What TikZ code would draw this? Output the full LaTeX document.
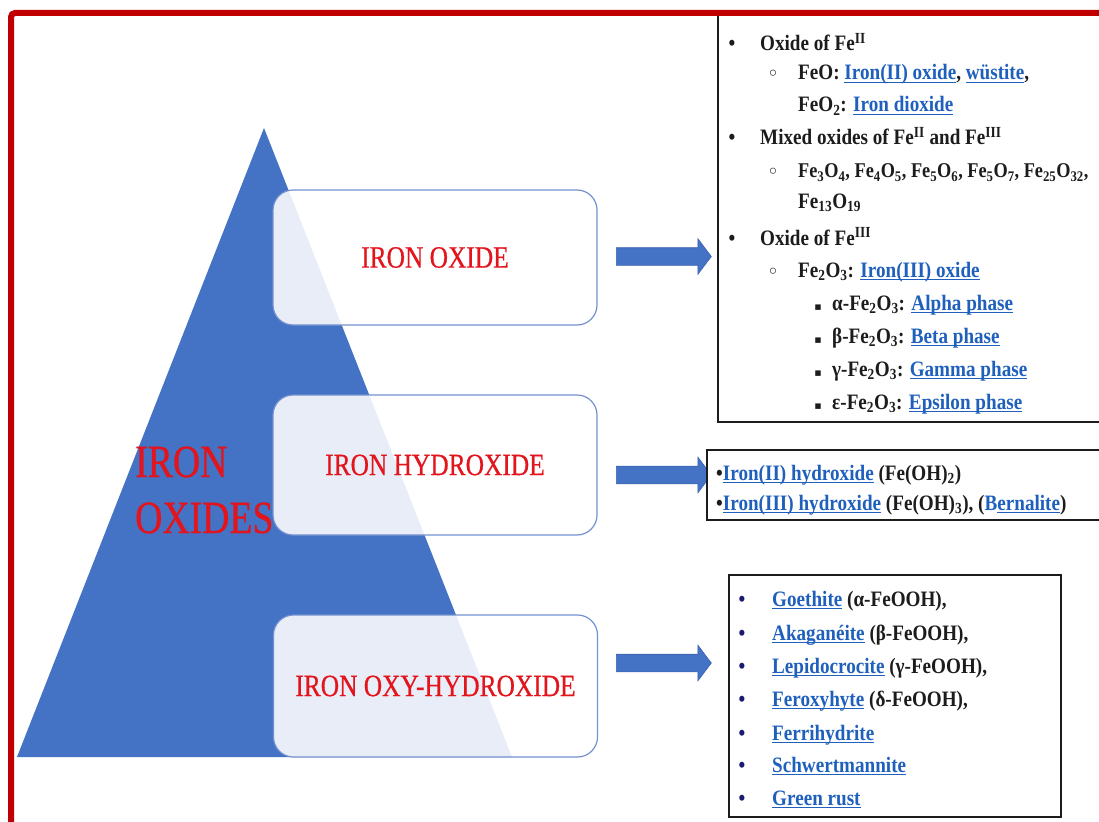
\documentclass[tikz,border=0pt]{standalone}
\usepackage{fontspec}
\usetikzlibrary{shapes.arrows}
\newfontfamily\rfont[FakeStretch=0.87]{Liberation Serif}
\newfontfamily\decofont[FakeStretch=0.82,FakeBold=0.6]{Liberation Serif}
\newfontfamily\symfont{DejaVu Sans}
\definecolor{triblue}{HTML}{4472C4}
\definecolor{edgeblue}{HTML}{7391CF}
\definecolor{arrowedge}{HTML}{3B64B0}
\definecolor{framered}{HTML}{C00000}
\definecolor{labred}{HTML}{E3141C}
\definecolor{linkc}{HTML}{1F60BD}
\definecolor{txt}{HTML}{1C1C1C}
\definecolor{navy}{HTML}{1A1A70}
% underlined hyperlink-style text
\newcommand\lnk[1]{{\color{linkc}\setbox0\hbox{#1}\rlap{\rule[-3.2pt]{\wd0}{1.3pt}}\box0}}
\newcommand\sbs[1]{\textsubscript{#1}}
\newcommand\sps[1]{\textsuperscript{#1}}
\newcommand\circbul{{\symfont\fontsize{17}{17}\selectfont ◦}}
\newcommand\sqbul{{\symfont\fontsize{11}{11}\selectfont ▪}}
\tikzset{
  catbox/.style={draw=edgeblue, line width=1.2pt, fill=white, fill opacity=0.88,
    text opacity=1, rounded corners=20pt, minimum width=324pt, inner sep=0pt,
    text=labred, font=\decofont\fontsize{31}{31}\selectfont},
  listbox/.style={draw=txt, line width=1.3pt, fill=white, inner sep=0pt},
  blockarrow/.style={single arrow, fill=triblue, draw=arrowedge, line width=0.6pt,
    minimum height=95pt, inner xsep=0pt, inner ysep=8.5pt,
    single arrow head extend=9pt, single arrow tip angle=106},
  ln/.style={anchor=base west, inner sep=0pt, text=txt,
    font=\rfont\bfseries\fontsize{22}{26}\selectfont},
  bul/.style={anchor=base, inner sep=0pt, text=txt,
    font=\rfont\bfseries\fontsize{22}{26}\selectfont},
}
\begin{document}
\begin{tikzpicture}[x=1pt,y=-1pt]
\useasboundingbox (0,0) rectangle (1099,821);
\fill[white] (0,0) rectangle (1099,821);

% pyramid
\fill[triblue] (17,757) -- (264,128) -- (512,757) -- cycle;

% category boxes
\node[catbox, minimum height=135pt] (oxide) at (435,257.5) {IRON OXIDE};
\node[catbox, minimum height=140pt] (hydroxide) at (435,465) {IRON HYDROXIDE};
\node[catbox, minimum height=142pt] (oxyhydroxide) at (435.5,686) {IRON OXY-HYDROXIDE};

\node[anchor=west, align=left, inner sep=0pt, text=labred,
  font=\decofont\fontsize{46}{56}\selectfont] (title) at (135,490) {IRON\\OXIDES};

% block arrows
\node[blockarrow] (arr1) at (660.5,256.5) {};
\node[blockarrow] (arr2) at (660.5,475) {};
\node[blockarrow] (arr3) at (660.5,663) {};

% list boxes
\node[listbox, minimum width=387pt, minimum height=408pt] (listA) at (911.5,218) {};
\node[listbox, minimum width=398pt, minimum height=70pt] (listB) at (906,485) {};
\node[listbox, minimum width=332pt, minimum height=242pt] (listC) at (895,696) {};

% oxides list
\node[bul] (a1b) at (732,51) {•};
\node[ln] (a1) at (760,51) {Oxide of Fe\sps{II}};
\node[bul] (a2b) at (773,80) {\circbul};
\node[ln] (a2) at (798,80) {FeO: \lnk{Iron(II) oxide}, \lnk{wüstite},};
\node[ln] (a3) at (798,112) {FeO\sbs{2}: \lnk{Iron dioxide}};
\node[bul] (a4b) at (732,145) {•};
\node[ln] (a4) at (760,145) {Mixed oxides of Fe\sps{II} and Fe\sps{III}};
\node[bul] (a5b) at (773,178) {\circbul};
\node[ln, font=\rfont\bfseries\fontsize{21}{26}\selectfont] (a5) at (798,178)
  {Fe\sbs{3}O\sbs{4}, Fe\sbs{4}O\sbs{5}, Fe\sbs{5}O\sbs{6}, Fe\sbs{5}O\sbs{7}, Fe\sbs{25}O\sbs{32},};
\node[ln] (a6) at (798,208) {Fe\sbs{13}O\sbs{19}};
\node[bul] (a7b) at (732,245) {•};
\node[ln] (a7) at (760,245) {Oxide of Fe\sps{III}};
\node[bul] (a8b) at (773,277) {\circbul};
\node[ln] (a8) at (798,277) {Fe\sbs{2}O\sbs{3}: \lnk{Iron(III) oxide}};
\node[bul] (a9b) at (818,310) {\sqbul};
\node[ln] (a9) at (832,310) {α-Fe\sbs{2}O\sbs{3}: \lnk{Alpha phase}};
\node[bul] (a10b) at (818,343) {\sqbul};
\node[ln] (a10) at (832,343) {β-Fe\sbs{2}O\sbs{3}: \lnk{Beta phase}};
\node[bul] (a11b) at (818,376) {\sqbul};
\node[ln] (a11) at (832,376) {γ-Fe\sbs{2}O\sbs{3}: \lnk{Gamma phase}};
\node[bul] (a12b) at (818,409) {\sqbul};
\node[ln] (a12) at (832,409) {ε-Fe\sbs{2}O\sbs{3}: \lnk{Epsilon phase}};

% hydroxides list
\node[ln] (b1) at (716,480) {•\lnk{Iron(II) hydroxide} (Fe(OH)\sbs{2})};
\node[ln] (b2) at (716,510) {•\lnk{Iron(III) hydroxide} (Fe(OH)\sbs{3}), ({\color{linkc}B}\lnk{ernalite})};

% oxy-hydroxides list
\foreach \i/\yy/\t in {1/606/{\lnk{Goethite} (α-FeOOH),},
                        2/640/{\lnk{Akaganéite} (β-FeOOH),},
                        3/673/{\lnk{Lepidocrocite} (γ-FeOOH),},
                        4/706/{\lnk{Feroxyhyte} (δ-FeOOH),},
                        5/740/{\lnk{Ferrihydrite}},
                        6/772/{\lnk{Schwertmannite}},
                        7/805/{\lnk{Green rust}}}{
  \node[bul, text=navy] (c\i b) at (742,\yy) {•};
  \node[ln] (c\i) at (772,\yy) {\t};
}

% outer frame
\draw[framered, line width=6pt, rounded corners=4pt] (11,13) rectangle (1120,840);
\end{tikzpicture}
\end{document}
